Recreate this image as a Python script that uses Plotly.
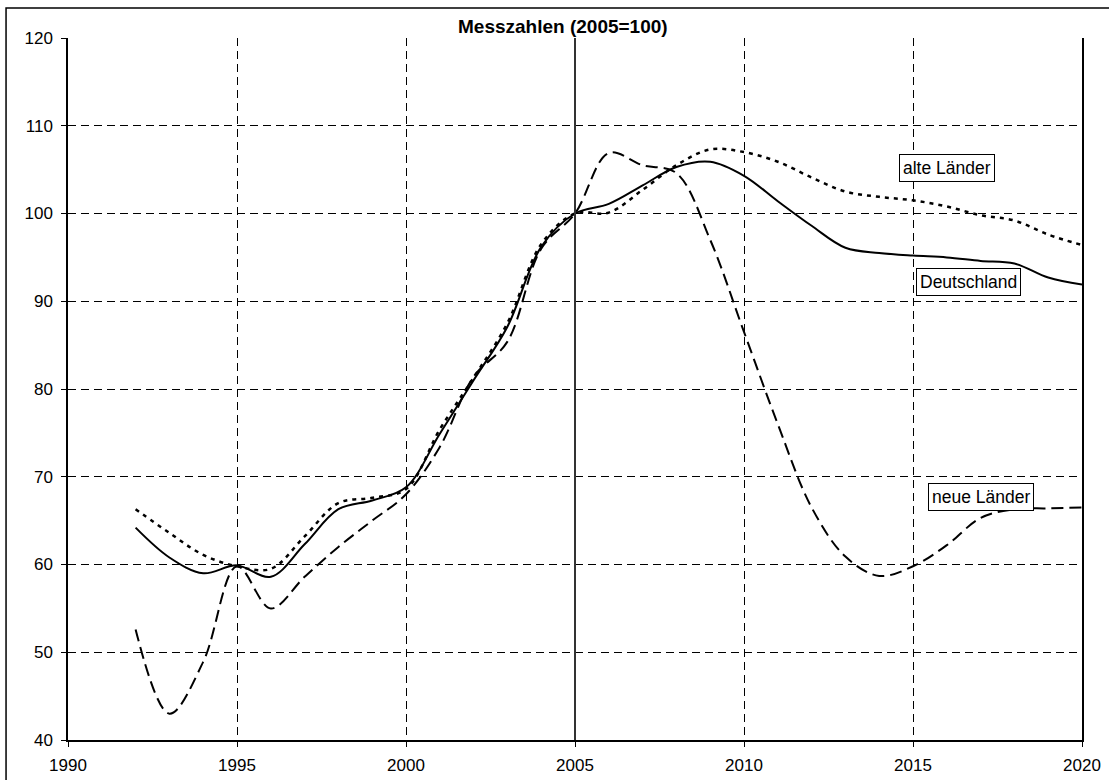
import plotly.graph_objects as go

years = list(range(1992, 2021))

deutschland = [64.2, 60.8, 59.0, 59.9, 58.6, 62.3, 66.3, 67.3, 68.8,
               74.9, 81.0, 87.1, 96.2, 100.0, 101.1, 103.2, 105.3, 105.9,
               104.3, 101.4, 98.6, 96.1, 95.5, 95.2, 95.0, 94.6, 94.3, 92.7, 91.9]

alte_laender = [66.3, 63.6, 61.1, 59.8, 59.5, 63.2, 67.0, 67.6, 68.6,
                75.4, 81.3, 87.5, 96.5, 100.0, 100.1, 102.7, 105.5, 107.3,
                107.0, 105.9, 104.1, 102.5, 101.9, 101.5, 100.8, 99.8, 99.2, 97.6, 96.4]

neue_laender = [52.6, 43.0, 48.9, 59.8, 55.0, 58.6, 62.0, 65.0, 68.0,
                73.4, 81.4, 85.4, 96.0, 100.0, 106.9, 105.5, 104.6, 97.0,
                86.5, 76.0, 66.5, 60.9, 58.7, 59.8, 62.2, 65.3, 66.3, 66.4, 66.5]

x_ticks = [1990, 1995, 2000, 2005, 2010, 2015, 2020]
y_ticks = [40, 50, 60, 70, 80, 90, 100, 110, 120]

FONT = "Liberation Sans, Arial, sans-serif"

fig = go.Figure()
fig.add_trace(go.Scatter(x=years, y=neue_laender, mode="lines",
                         line=dict(color="black", width=2, dash="12px,6px", shape="spline"),
                         name="neue Länder"))
fig.add_trace(go.Scatter(x=years, y=alte_laender, mode="lines",
                         line=dict(color="black", width=2.5, dash="4px,5px", shape="spline"),
                         name="alte Länder"))
fig.add_trace(go.Scatter(x=years, y=deutschland, mode="lines",
                         line=dict(color="black", width=2, shape="spline"),
                         name="Deutschland"))

fig.update_layout(
    width=1109, height=780,
    margin=dict(l=68, r=27, t=38, b=40),
    paper_bgcolor="white", plot_bgcolor="white",
    showlegend=False,
    font=dict(family=FONT, size=17, color="black"),
    xaxis=dict(range=[1990, 2020], tickvals=x_ticks, ticktext=[str(v) for v in x_ticks],
               showgrid=True, gridcolor="black", gridwidth=1, griddash="8px,5px",
               showline=True, linecolor="black", linewidth=1.5, mirror=False,
               ticks="outside", ticklen=5, tickcolor="black", zeroline=False,
               ticklabelstandoff=4, automargin=False, tickfont=dict(size=17)),
    yaxis=dict(range=[40, 120], tickvals=y_ticks, ticktext=[str(v) for v in y_ticks],
               showgrid=True, gridcolor="black", gridwidth=1, griddash="8px,5px",
               showline=True, linecolor="black", linewidth=1.5, mirror=True,
               ticks="outside", ticklen=5, tickcolor="black", zeroline=False,
               ticklabelstandoff=5, automargin=False, tickfont=dict(size=17)),
)

# 2005 reference line
fig.add_shape(type="line", xref="x", yref="paper", x0=2005, x1=2005, y0=0, y1=1,
              line=dict(color="#333333", width=2))
# outer chart border
fig.add_shape(type="rect", xref="paper", yref="paper",
              x0=-0.0611, x1=1.2, y0=-0.2, y1=1.0427,
              line=dict(color="black", width=1.5), layer="below")

fig.add_annotation(text="<b>Messzahlen (2005=100)</b>", xref="paper", yref="paper",
                   x=(563 - 68) / 1014, y=(740 - 26) / 702, showarrow=False,
                   font=dict(size=19, family=FONT), xanchor="center", yanchor="middle")

for txt, xx, yy in [("alte Länder", 2016.02, 105.24),
                    ("Deutschland", 2016.64, 92.2),
                    ("neue Länder", 2017.01, 67.7)]:
    fig.add_annotation(text=txt, x=xx, y=yy, showarrow=False,
                       bordercolor="black", borderwidth=1, borderpad=3, bgcolor="white",
                       font=dict(size=17.5, family=FONT), xanchor="center", yanchor="middle")

fig.write_html("out.html", config={"displayModeBar": False},
               post_script="document.body.style.margin='0';document.body.style.overflow='hidden';")
